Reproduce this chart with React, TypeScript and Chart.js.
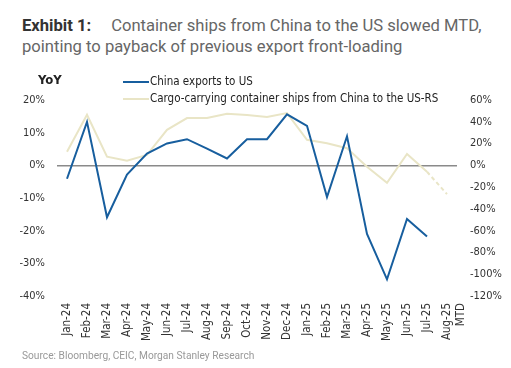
import React, { useEffect, useRef } from "react";
import { Chart, registerables } from "chart.js";

Chart.register(...registerables);

const categories: (string | string[])[] = [
  "Jan-24", "Feb-24", "Mar-24", "Apr-24", "May-24", "Jun-24", "Jul-24", "Aug-24",
  "Sep-24", "Oct-24", "Nov-24", "Dec-24", "Jan-25", "Feb-25", "Mar-25", "Apr-25",
  "May-25", "Jun-25", "Jul-25", ["Aug-25", "MTD"],
];

const chinaExportsToUS: (number | null)[] = [
  -4.1, 13.3, -15.9, -2.8, 3.6, 6.7, 8.0, 5.1, 2.1, 8.0,
  8.0, 15.6, 12.1, -9.7, 8.9, -21.0, -34.9, -16.4, -21.8, null,
];

const containerShips: number[] = [
  12.5, 46.4, 8.0, 4.3, 9.5, 32.6, 43.4, 43.4, 47.4, 46.2,
  44.3, 48.0, 23.4, 20.3, 15.7, -1.3, -16.0, 10.4, -5.9, -26.5,
];

const leftTicks = { min: -40, max: 20, step: 10 };
const rightTicks = { min: -120, max: 60, step: 20 };

const BLUE = "#175e9e";
const BEIGE = "#e9e5c6";
const FONT = "'Liberation Sans Narrow', 'DejaVu Sans Condensed', Roboto, sans-serif";

export default function App() {
  const ref = useRef<HTMLCanvasElement | null>(null);

  useEffect(() => {
    if (!ref.current) return;
    const chart = new Chart(ref.current, {
      type: "line",
      data: {
        labels: categories,
        datasets: [
          {
            label: "China exports to US",
            data: chinaExportsToUS,
            borderColor: BLUE,
            borderWidth: 2,
            pointRadius: 0,
            tension: 0,
            yAxisID: "y",
            order: 1,
          },
          {
            label: "Cargo-carrying container ships from China to the US-RS",
            data: containerShips,
            borderColor: BEIGE,
            borderWidth: 2,
            pointRadius: 0,
            tension: 0,
            yAxisID: "y1",
            order: 2,
            segment: {
              borderDash: (ctx: any) => (ctx.p1DataIndex === containerShips.length - 1 ? [4, 3] : undefined),
            },
          },
        ],
      },
      options: {
        responsive: false,
        animation: false,
        layout: { padding: { top: 100, left: 0, right: 0, bottom: 0 } },
        plugins: { legend: { display: false }, tooltip: { enabled: false } },
        scales: {
          x: {
            offset: true,
            grid: { display: false, drawTicks: false },
            border: { display: false },
            ticks: {
              maxRotation: 90,
              minRotation: 90,
              autoSkip: false,
              padding: 7,
              color: "#333",
              font: { family: FONT, size: 11.5 },
            },
            afterFit: (s: any) => { s.height = 72; },
          },
          y: {
            position: "left",
            min: leftTicks.min,
            max: leftTicks.max,
            ticks: {
              stepSize: leftTicks.step,
              padding: 12,
              color: "#333",
              font: { family: FONT, size: 11 },
              callback: (v: any) => `${v}%`,
            },
            grid: {
              drawTicks: false,
              color: (ctx: any) => (ctx.tick && ctx.tick.value === 0 ? "#8a8a8a" : "rgba(0,0,0,0)"),
              lineWidth: 1.5,
            },
            border: { display: false },
            afterFit: (s: any) => { s.width = 57; },
          },
          y1: {
            position: "right",
            min: rightTicks.min,
            max: rightTicks.max,
            ticks: {
              stepSize: rightTicks.step,
              padding: 13,
              color: "#333",
              font: { family: FONT, size: 11 },
              callback: (v: any) => `${v}%`,
            },
            grid: { display: false, drawTicks: false },
            border: { display: false },
            afterFit: (s: any) => { s.width = 54; },
          },
        },
      },
    });
    return () => chart.destroy();
  }, []);

  return (
    <div style={{ position: "absolute", left: 0, top: 0, width: 511, height: 368, background: "#fff", overflow: "hidden" }}>
      <div style={{ position: "absolute", left: 22, top: 15, fontFamily: "Roboto, sans-serif", fontSize: 16.6, lineHeight: "21px", color: "#666", whiteSpace: "nowrap" }}>
        <span style={{ fontWeight: 700, color: "#333" }}>Exhibit 1:</span>
        <span style={{ marginLeft: 20 }}>Container ships from China to the US slowed MTD,</span>
        <br />
        pointing to payback of previous export front-loading
      </div>
      <canvas ref={ref} width={511} height={368} style={{ position: "absolute", left: 0, top: 0 }} />
      <div style={{ position: "absolute", left: 38, top: 72, fontFamily: FONT, fontWeight: 700, fontSize: 13, color: "#222" }}>YoY</div>
      <div style={{ position: "absolute", left: 123, top: 73, fontFamily: FONT, fontSize: 11.5, color: "#222", lineHeight: "17px" }}>
        <div style={{ display: "flex", alignItems: "center" }}>
          <span style={{ display: "inline-block", width: 26, height: 2, background: BLUE, marginRight: 1 }} />
          China exports to US
        </div>
        <div style={{ display: "flex", alignItems: "center" }}>
          <span style={{ display: "inline-block", width: 26, height: 2, background: BEIGE, marginRight: 1 }} />
          Cargo-carrying container ships from China to the US-RS
        </div>
      </div>
      <div style={{ position: "absolute", left: 22, top: 350, fontFamily: "Roboto, sans-serif", fontSize: 10.2, color: "#999" }}>
        Source: Bloomberg, CEIC, Morgan Stanley Research
      </div>
    </div>
  );
}
